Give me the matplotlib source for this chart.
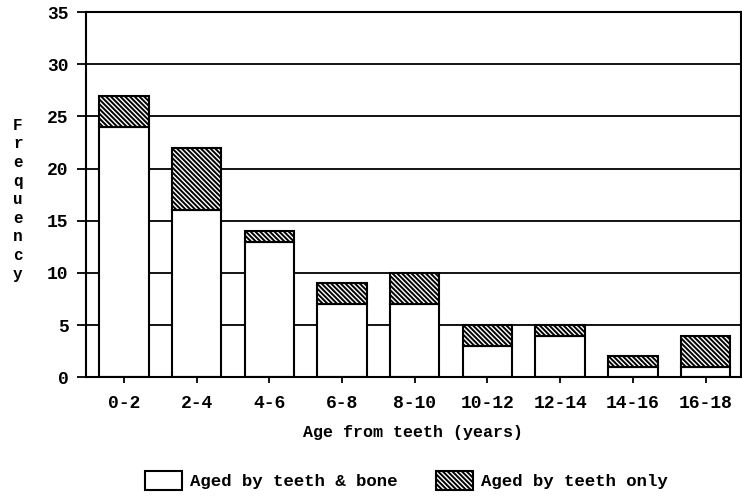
import numpy as np
import matplotlib
matplotlib.use('Agg')
import matplotlib.pyplot as plt
from matplotlib.patches import Patch

# age classes (years) and counts
ages = ["0-2", "2-4", "4-6", "6-8", "8-10", "10-12", "12-14", "14-16", "16-18"]
teeth_bone = [24, 16, 13, 7, 7, 3, 4, 1, 1]
teeth_only = [3, 6, 1, 2, 3, 2, 1, 1, 3]
yticks = [0, 5, 10, 15, 20, 25, 30, 35]

plt.rcParams['font.family'] = ['Liberation Mono', 'DejaVu Sans Mono']
plt.rcParams['font.weight'] = 'bold'
plt.rcParams['axes.labelweight'] = 'bold'
plt.rcParams['hatch.linewidth'] = 1.4
HATCH = '\\' * 7

fig = plt.figure(figsize=(7.42, 5.03), dpi=100, facecolor='white')
ax = fig.add_axes([0.116, 0.25, 0.882, 0.726])

x = np.arange(len(ages))
ax.set_axisbelow(True)
ax.grid(axis='y', color='black', lw=1.3)
ax.bar(x, teeth_bone, width=0.68, color='white', edgecolor='black', lw=1.5)
ax.bar(x, teeth_only, width=0.68, bottom=teeth_bone, color='white',
       edgecolor='black', lw=1.5, hatch=HATCH)

ax.set_xlim(-0.52, 8.48)
ax.set_ylim(0, 35)
ax.set_yticks(yticks)
ax.set_xticks(x)
ax.set_xticklabels(ages)
ax.tick_params(axis='y', length=6.5, width=1.3, labelsize=13, pad=6)
ax.tick_params(axis='x', length=4.5, width=1.3, labelsize=13, pad=8)
for sp in ax.spines.values():
    sp.set_linewidth(1.5)

ax.set_xlabel('Age from teeth (years)', fontsize=12, labelpad=10)
fig.text(0.024, 0.603, '\n'.join('Frequency'), ha='center', va='center',
         fontsize=11.5, linespacing=1.3, weight='bold')

handles = [Patch(facecolor='white', edgecolor='black', lw=1.5),
           Patch(facecolor='white', edgecolor='black', lw=1.5, hatch=HATCH)]
fig.legend(handles, ['Aged by teeth & bone', 'Aged by teeth only'],
           loc='center', bbox_to_anchor=(0.548, 0.045), ncol=2, frameon=False,
           handlelength=2.1, handleheight=1.3, handletextpad=0.5,
           columnspacing=2.2, fontsize=12.5)

fig.savefig('out.png', dpi=100, facecolor='white')
